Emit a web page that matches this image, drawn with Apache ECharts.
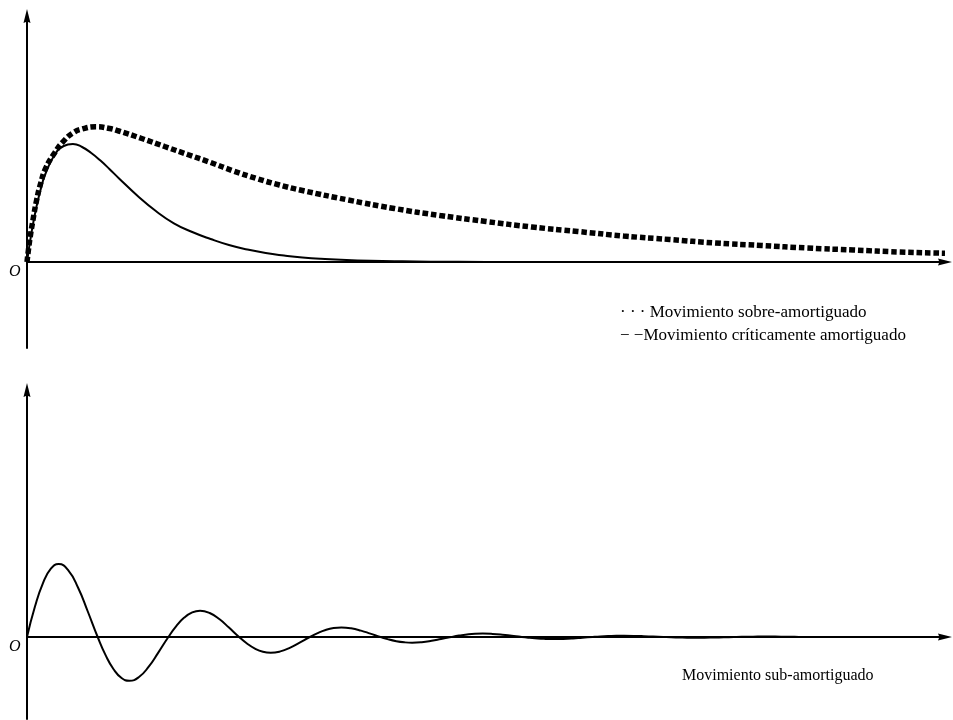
<!DOCTYPE html>
<html>
<head>
<meta charset="utf-8">
<title>Movimiento amortiguado</title>
<script src="https://cdn.jsdelivr.net/npm/echarts@6/dist/echarts.min.js"></script>
<style>
  html, body { margin: 0; padding: 0; background: #ffffff; }
  #chart { width: 953px; height: 720px; }
</style>
</head>
<body>
<div id="chart"></div>
<script>
// Movimiento sobre-amortiguado (curva punteada)
const tSobre = [0, 0.03, 0.065, 0.105, 0.15, 0.2, 0.3, 0.4, 0.5, 0.6, 0.75, 0.9, 1.0,
  1.25, 1.5, 1.75, 2.0, 2.25, 2.5, 2.75, 3.0, 3.5, 4.0, 4.5, 5.0, 5.5, 6.0, 6.5, 7.0, 7.5, 8.0, 8.5, 9.0, 9.5, 10];
const ySobre = [0, 0.22, 0.42, 0.62, 0.79, 0.93, 1.09, 1.21, 1.29, 1.33, 1.352, 1.335, 1.31,
  1.235, 1.155, 1.075, 0.995, 0.91, 0.835, 0.77, 0.715, 0.62, 0.535, 0.465, 0.405, 0.35, 0.305, 0.26, 0.225, 0.19, 0.165, 0.14, 0.12, 0.10, 0.088];

// Movimiento críticamente amortiguado (curva continua)
const tCritico = [0, 0.05, 0.1, 0.15, 0.2, 0.3, 0.4, 0.5, 0.6, 0.7, 0.8, 0.9, 1.0,
  1.2, 1.4, 1.6, 1.8, 2.0, 2.2, 2.4, 2.6, 2.8, 3.0, 3.2, 3.6, 4.0, 4.4, 5.0, 6.0, 10];
const yCritico = [0, 0.30, 0.54, 0.73, 0.88, 1.07, 1.16, 1.18, 1.15, 1.09, 1.014, 0.928, 0.838,
  0.665, 0.512, 0.387, 0.30, 0.23, 0.17, 0.125, 0.09, 0.065, 0.045, 0.032, 0.016, 0.008, 0.003, 0.001, 0, 0];

// Movimiento sub-amortiguado (oscilación decreciente): ceros, crestas y puntos intermedios
const tSub = [
  0, 0.086, 0.173, 0.26, 0.345, 0.45, 0.558, 0.66,
  0.77, 0.856, 0.943, 1.03, 1.115, 1.22, 1.328, 1.43,
  1.54, 1.626, 1.713, 1.8, 1.885, 1.99, 2.098, 2.2,
  2.31, 2.396, 2.483, 2.57, 2.655, 2.76, 2.868, 2.97,
  3.08, 3.166, 3.253, 3.34, 3.425, 3.53, 3.638, 3.74,
  3.85, 3.936, 4.023, 4.11, 4.195, 4.3, 4.408, 4.51,
  4.62, 4.706, 4.793, 4.88, 4.965, 5.07, 5.178, 5.28,
  5.39, 5.476, 5.563, 5.65, 5.735, 5.84, 5.948, 6.05,
  6.16, 6.246, 6.333, 6.42, 6.505, 6.61, 6.718, 6.82,
  6.93, 7.016, 7.103, 7.19, 7.275, 7.38, 7.488, 7.59,
  7.7, 7.786, 7.873, 7.96, 8.045, 8.15, 8.258, 8.36,
  8.47, 10];
const ySub = [
  0, 0.302, 0.537, 0.683, 0.73, 0.666, 0.49, 0.26,
  0, -0.181, -0.322, -0.41, -0.438, -0.4, -0.294, -0.156,
  0, 0.109, 0.194, 0.246, 0.263, 0.24, 0.177, 0.094,
  0, -0.065, -0.116, -0.148, -0.158, -0.144, -0.106, -0.056,
  0, 0.039, 0.07, 0.089, 0.095, 0.087, 0.064, 0.034,
  0, -0.024, -0.042, -0.053, -0.057, -0.052, -0.038, -0.02,
  0, 0.014, 0.025, 0.032, 0.034, 0.031, 0.023, 0.012,
  0, -0.008, -0.015, -0.019, -0.021, -0.019, -0.014, -0.007,
  0, 0.005, 0.009, 0.012, 0.012, 0.011, 0.008, 0.004,
  0, -0.003, -0.005, -0.007, -0.007, -0.007, -0.005, -0.003,
  0, 0.002, 0.003, 0.004, 0.004, 0.004, 0.003, 0.002,
  0, 0];

// Rangos de los ejes
const xRange = [0, 10];
const yRangeTop = [-0.86, 2.46];
const yRangeBottom = [-0.82, 2.47];

// Textos
const originLabel = 'O';
const legendSobre = '\u00b7 \u00b7 \u00b7 Movimiento sobre-amortiguado';
const legendCritico = '\u2212 \u2212Movimiento críticamente amortiguado';
const labelSub = 'Movimiento sub-amortiguado';

const zip = (xs, ys) => xs.map((x, i) => [x, ys[i]]);

const serif = '"Liberation Serif", "DejaVu Serif", serif';
// Punta de flecha estrecha (proporción 1:2) al final de cada eje
const axisLine = {
  show: true,
  onZero: true,
  symbol: ['none', 'path://M5,0 L10,20 L5,18 L0,20 Z'],
  symbolSize: [7, 14],
  lineStyle: { color: '#000', width: 2 }
};

function xAxisFor(gridIndex) {
  return {
    type: 'value', gridIndex, min: xRange[0], max: xRange[1],
    axisLine, axisTick: { show: false }, axisLabel: { show: false }, splitLine: { show: false }
  };
}
function yAxisFor(gridIndex, range) {
  return {
    type: 'value', gridIndex, min: range[0], max: range[1],
    axisLine: Object.assign({}, axisLine, { onZero: false }),
    axisTick: { show: false }, axisLabel: { show: false }, splitLine: { show: false }
  };
}

const chart = echarts.init(document.getElementById('chart'), null, { renderer: 'canvas' });
chart.setOption({
  animation: false,
  backgroundColor: '#ffffff',
  grid: [
    { left: 27, right: 8, top: 16, height: 332 },
    { left: 27, right: 8, top: 390, height: 329 }
  ],
  xAxis: [xAxisFor(0), xAxisFor(1)],
  yAxis: [yAxisFor(0, yRangeTop), yAxisFor(1, yRangeBottom)],
  series: [
    {
      name: 'Movimiento sobre-amortiguado', type: 'line', xAxisIndex: 0, yAxisIndex: 0,
      data: zip(tSobre, ySobre), smooth: 0.5, showSymbol: false, symbol: 'none', clip: true,
      lineStyle: { color: '#000', width: 5.5, type: [5.6, 2.8], cap: 'butt' }, z: 3
    },
    {
      name: 'Movimiento críticamente amortiguado', type: 'line', xAxisIndex: 0, yAxisIndex: 0,
      data: zip(tCritico, yCritico), smooth: 0.5, showSymbol: false, symbol: 'none', clip: true,
      lineStyle: { color: '#000', width: 2 }, z: 3
    },
    {
      name: 'Movimiento sub-amortiguado', type: 'line', xAxisIndex: 1, yAxisIndex: 1,
      data: zip(tSub, ySub), smooth: 0.5, showSymbol: false, symbol: 'none', clip: true,
      lineStyle: { color: '#000', width: 2 }, z: 3
    }
  ],
  graphic: [
    { type: 'text', left: 9, top: 264, style: { text: originLabel, font: 'italic 16px ' + serif, fill: '#000' } },
    { type: 'text', left: 9, top: 639, style: { text: originLabel, font: 'italic 16px ' + serif, fill: '#000' } },
    { type: 'text', left: 620, top: 304, style: { text: legendSobre, font: '17px ' + serif, fill: '#000' } },
    { type: 'text', left: 620, top: 327, style: { text: legendCritico, font: '17px ' + serif, fill: '#000' } },
    { type: 'text', left: 682, top: 668, style: { text: labelSub, font: '16px ' + serif, fill: '#000' } }
  ]
});
</script>
</body>
</html>
